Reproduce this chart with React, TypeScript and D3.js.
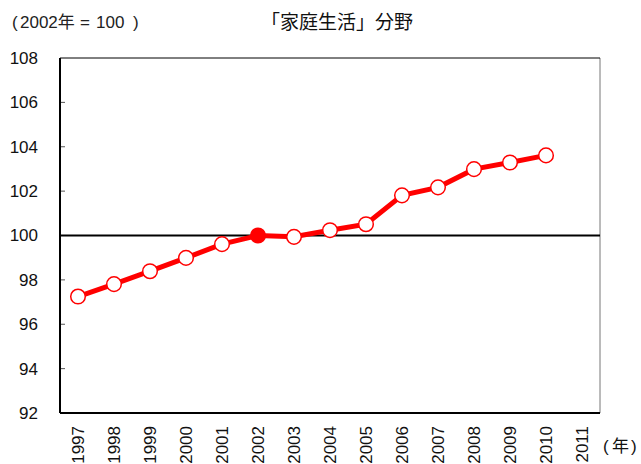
import React from "react";
import * as d3 from "d3";

const years = [
  "1997", "1998", "1999", "2000", "2001", "2002", "2003", "2004",
  "2005", "2006", "2007", "2008", "2009", "2010", "2011",
];
// 家庭生活 index (2002 = 100), 2011 has no value yet
const values = [
  97.25, 97.81, 98.39, 98.99, 99.61, 100, 99.94, 100.24, 100.51, 101.81,
  102.17, 102.99, 103.29, 103.61,
];
const yTicks = [92, 94, 96, 98, 100, 102, 104, 106, 108];
const baseYear = "2002";

const W = 641;
const H = 464;
const margin = { left: 60, right: 41, top: 58, bottom: 51 };
const font = "'Liberation Sans', Arial, sans-serif";
const mixFont = "'Liberation Sans', 'Noto Sans CJK JP', sans-serif";
const jpFont = "'Noto Sans CJK JP', 'Liberation Sans', sans-serif";

export default function App() {
  const width = W - margin.left - margin.right;
  const height = H - margin.top - margin.bottom;

  const x = d3.scaleBand().domain(years).range([0, width]);
  const y = d3.scaleLinear().domain([92, 108]).range([height, 0]);

  const points = values.map((v, i) => ({ year: years[i], v }));
  const cx = (yr: string) => (x(yr) ?? 0) + x.bandwidth() / 2;

  const line = d3
    .line<{ year: string; v: number }>()
    .x((d) => cx(d.year))
    .y((d) => y(d.v));

  return (
    <svg
      width={W}
      height={H}
      style={{ position: "absolute", left: 0, top: 0, background: "#fff" }}
    >
      <text y={28} fontFamily={mixFont} fontSize={17} fill="#222">
        <tspan x={12}>(</tspan>
        <tspan x={20}>2002年</tspan>
        <tspan x={80}>=</tspan>
        <tspan x={96}>100</tspan>
        <tspan x={133}>)</tspan>
      </text>
      <text
        x={337}
        y={29}
        textAnchor="middle"
        fontFamily={jpFont}
        fontSize={19}
        fill="#111"
      >
        「家庭生活」分野
      </text>

      <g transform={`translate(${margin.left},${margin.top})`}>
        {/* y tick labels + inner ticks */}
        {yTicks.map((t) => (
          <g key={t}>
            <text
              x={-22}
              y={y(t)}
              dy="0.35em"
              textAnchor="end"
              fontFamily={font}
              fontSize={17}
              fill="#111"
            >
              {t}
            </text>
            {t !== 92 && t !== 108 && t !== 100 && (
              <line x1={0} x2={5} y1={y(t)} y2={y(t)} stroke="#555" strokeWidth={1} />
            )}
          </g>
        ))}

        {/* frame */}
        <line x1={width} x2={width} y1={0} y2={height} stroke="#777" strokeWidth={1} />
        <line x1={0} x2={width} y1={0} y2={0} stroke="#000" strokeWidth={1} />
        <line x1={0} x2={width} y1={height} y2={height} stroke="#000" strokeWidth={2} />
        <line x1={0} x2={0} y1={0} y2={height} stroke="#000" strokeWidth={2} />
        <line x1={0} x2={width} y1={y(100)} y2={y(100)} stroke="#000" strokeWidth={2} />

        {/* series */}
        <path d={line(points) ?? ""} fill="none" stroke="#ff0000" strokeWidth={5} />
        {points.map((p) => (
          <circle
            key={p.year}
            cx={cx(p.year)}
            cy={y(p.v)}
            r={7.3}
            fill={p.year === baseYear ? "#ff0000" : "#fff"}
            stroke="#ff0000"
            strokeWidth={1.5}
          />
        ))}

        {/* x labels, rotated */}
        {years.map((yr) => (
          <text
            key={yr}
            transform={`translate(${cx(yr) + 6},${height + 13}) rotate(-90)`}
            textAnchor="end"
            fontFamily={font}
            fontSize={17}
            fill="#111"
          >
            {yr}
          </text>
        ))}
      </g>

      <text y={452} fontFamily={mixFont} fontSize={17} fill="#111">
        <tspan x={603}>(</tspan>
        <tspan x={612}>年</tspan>
        <tspan x={631}>)</tspan>
      </text>
    </svg>
  );
}
